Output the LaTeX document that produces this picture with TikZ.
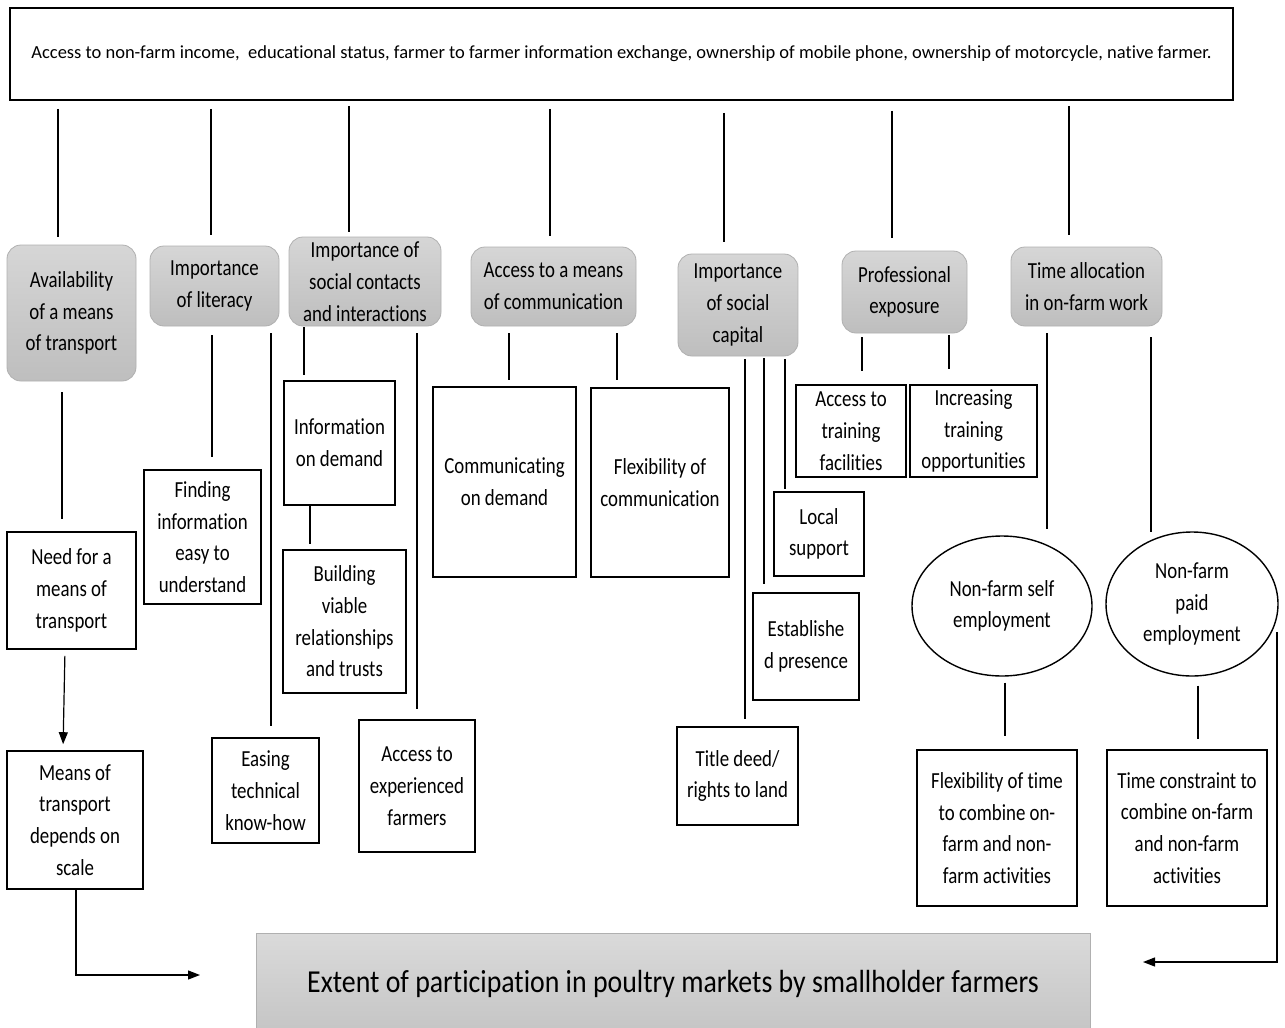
\documentclass[tikz,border=0pt]{standalone}
\usepackage{fontspec}
\setmainfont{Carlito}[FakeStretch=0.82,Ligatures=NoCommon]
\newfontfamily\topfont{Carlito}[Ligatures=NoCommon]
\newfontfamily\goalfont{Carlito}[FakeStretch=0.87,Ligatures=NoCommon]
\usetikzlibrary{arrows.meta,shapes.geometric,calc}
\definecolor{gtop}{HTML}{D6D6D6}
\definecolor{gbot}{HTML}{BEBEBE}
\definecolor{gedge}{HTML}{B0B0B0}
\newcommand\bx[7]{\node[#1, minimum width={#5-#3}, minimum height={#6-#4}] (#2) at ({(#3+#5)/2},{(#4+#6)/2}) {#7};}
\begin{document}
\begin{tikzpicture}[x=1pt,y=-1pt,
  bt/.style={font=\fontsize{23}{31.7}\selectfont},
  wbox/.style={bt, draw=black, line width=1.6pt, fill=white, inner sep=0pt, align=center},
  gbox/.style={bt, draw=gedge, line width=0.8pt, rounded corners=14pt, top color=gtop, bottom color=gbot, inner sep=0pt, align=center},
  oval/.style={bt, ellipse, draw=black, line width=1.4pt, inner sep=0pt, align=center},
  conn/.style={line width=1.2pt},
  arr/.style={conn, -{Triangle[length=12pt,width=9pt]}}]
\useasboundingbox (0,0) rectangle (1285,1028);
\fill[white] (0,0) rectangle (1285,1028);

% top box
\bx{draw=black, line width=1.8pt, inner sep=0pt, font=\topfont\fontsize{18.5}{22}\selectfont}{top}{10}{8}{1233}{100}
 {Access to non-farm income,~ educational status, farmer to farmer information exchange, ownership of mobile phone, ownership of motorcycle, native farmer.}

% gray boxes
\bx{gbox}{avail}{7}{245}{136}{381}{Availability\\of a means\\of transport}
\bx{gbox}{lit}{150}{246}{279}{326}{Importance\\of literacy}
\bx{gbox}{soc}{289}{237}{441}{326}{Importance of\\social contacts\\and interactions}
\bx{gbox}{comm}{471}{247}{636}{326}{Access to a means\\of communication}
\bx{gbox}{cap}{678}{254}{798}{356}{Importance\\of social\\capital}
\bx{gbox}{prof}{842}{251}{967}{333}{Professional\\exposure}
\bx{gbox}{time}{1011}{247}{1162}{326}{Time allocation\\in on-farm work}

% white boxes
\bx{wbox}{need}{7}{532}{136}{649}{Need for a\\means of\\transport}
\bx{wbox}{means}{7}{751}{143}{889}{Means of\\transport\\depends on\\scale}
\bx{wbox}{find}{144}{470}{261}{604}{Finding\\information\\easy to\\understand}
\bx{wbox}{ease}{212}{738}{319}{843}{Easing\\technical\\know-how}
\bx{wbox}{info}{284}{381}{395}{505}{Information\\on demand}
\bx{wbox}{build}{283}{550}{406}{693}{Building\\viable\\relationships\\and trusts}
\bx{wbox}{exp}{359}{720}{475}{852}{Access to\\experienced\\farmers}
\bx{wbox}{cod}{433}{387}{576}{577}{Communicating\\on demand}
\bx{wbox}{flex}{591}{388}{729}{577}{Flexibility of\\communication}
\bx{wbox}{local}{774}{492}{864}{576}{Local\\support}
\bx{wbox}{estab}{753}{593}{859}{700}{Establishe\\d presence}
\bx{wbox}{title}{677}{727}{798}{825}{Title deed/\\rights to land}
\bx{wbox}{atf}{796}{385}{906}{477}{Access to\\training\\facilities}
\bx{wbox}{ito}{910}{385}{1037}{477}{Increasing\\training\\opportunities}
\bx{wbox}{flext}{917}{750}{1077}{906}{Flexibility of time\\to combine on-\\farm and non-\\farm activities}
\bx{wbox}{tcon}{1107}{750}{1267}{906}{Time constraint to\\combine on-farm\\and non-farm\\activities}

% ellipses
\node[oval, minimum width=180pt, minimum height=140pt] (self) at (1002,606) {Non-farm self\\employment};
\node[oval, minimum width=172pt, minimum height=144pt] (paid) at (1192,604) {Non-farm\\paid\\employment};

% goal
\bx{draw=gedge, line width=0.8pt, top color=gtop!90!white, bottom color=gbot!90!white, inner sep=0pt, font=\goalfont\fontsize{32}{38}\selectfont}{goal}{256}{933}{1090}{1034}{Extent of participation in poultry markets by smallholder farmers}

% top connectors
\draw[conn, shorten <=8pt, shorten >=8pt] (58,0 |- top.south) -- (58,0 |- avail.north);
\draw[conn, shorten <=8pt, shorten >=11pt] (211,0 |- top.south) -- (211,0 |- lit.north);
\draw[conn, shorten <=5pt, shorten >=5pt] (349,0 |- top.south) -- (349,0 |- soc.north);
\draw[conn, shorten <=8pt, shorten >=11pt] (550,0 |- top.south) -- (550,0 |- comm.north);
\draw[conn, shorten <=12pt, shorten >=12pt] (724,0 |- top.south) -- (724,0 |- cap.north);
\draw[conn, shorten <=10pt, shorten >=13pt] (892,0 |- top.south) -- (892,0 |- prof.north);
\draw[conn, shorten <=5pt, shorten >=12pt] (1069,0 |- top.south) -- (1069,0 |- time.north);

% transport column
\draw[conn, shorten <=11pt, shorten >=12pt] (62,0 |- avail.south) -- (62,0 |- need.north);
\draw[arr, shorten <=6pt, shorten >=6pt] (65,0 |- need.south) -- (63,0 |- means.north);
\coordinate (arrL) at (200,975);
\draw[arr] (76,0 |- means.south) |- (arrL);
\coordinate (rtop) at (1277,632);
\coordinate (arrR) at (1143,962);
\draw[arr] (rtop) |- (arrR);

% literacy
\draw[conn, shorten <=9pt, shorten >=12pt] (212,0 |- lit.south) -- (212,0 |- find.north);
\draw[conn, shorten <=7pt, shorten >=11pt] (271,0 |- lit.south) -- (271,0 |- ease.north);
% social contacts
\draw[conn, shorten <=1pt, shorten >=5pt] (304,0 |- soc.south) -- (304,0 |- info.north);
\draw[conn, shorten >=5pt] (310,0 |- info.south) -- (310,0 |- build.north);
\draw[conn, shorten <=7pt, shorten >=10pt] (417,0 |- soc.south) -- (417,0 |- exp.north);
% communication
\draw[conn, shorten <=7pt, shorten >=6pt] (509,0 |- comm.south) -- (509,0 |- cod.north);
\draw[conn, shorten <=7pt, shorten >=7pt] (617,0 |- comm.south) -- (617,0 |- flex.north);
% social capital
\draw[conn, shorten <=3pt, shorten >=7pt] (745,0 |- cap.south) -- (745,0 |- title.north);
\draw[conn, shorten <=2pt, shorten >=8pt] (764,0 |- cap.south) -- (764,0 |- estab.north);
\draw[conn, shorten <=3pt, shorten >=2pt] (785,0 |- cap.south) -- (785,0 |- local.north);
% professional
\draw[conn, shorten <=4pt, shorten >=13pt] (862,0 |- prof.south) -- (862,0 |- atf.north);
\draw[conn, shorten <=2pt, shorten >=15pt] (949,0 |- prof.south) -- (949,0 |- ito.north);
% time allocation
\draw[conn, shorten <=7pt, shorten >=6pt] (1047,0 |- time.south) -- (1047,0 |- self.north);
\draw[conn, shorten <=11pt, shorten >=-1pt] (1151,0 |- time.south) -- (1151,0 |- paid.north);
\draw[conn, shorten <=6pt, shorten >=13pt] (1005,0 |- self.south) -- (1005,0 |- flext.north);
\draw[conn, shorten <=9pt, shorten >=10pt] (1198,0 |- paid.south) -- (1198,0 |- tcon.north);
\end{tikzpicture}
\end{document}
